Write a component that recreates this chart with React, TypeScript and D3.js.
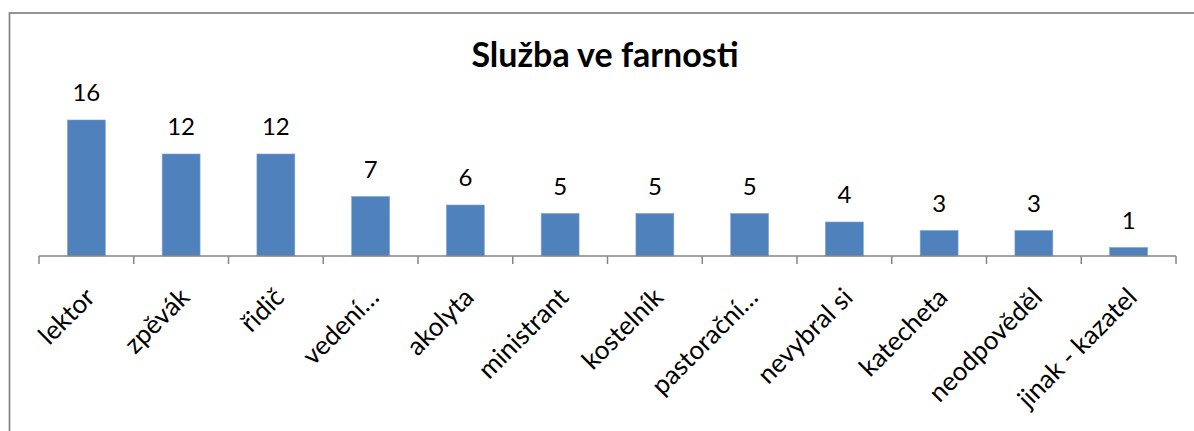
import React from "react";
import * as d3 from "d3";

const categories = [
  "lektor",
  "zpěvák",
  "řidič",
  "vedení…",
  "akolyta",
  "ministrant",
  "kostelník",
  "pastorační…",
  "nevybral si",
  "katecheta",
  "neodpověděl",
  "jinak - kazatel",
];
const values = [16, 12, 12, 7, 6, 5, 5, 5, 4, 3, 3, 1];
const title = "Služba ve farnosti";

const W = 1194;
const H = 431;
const axisY = 256;
const FONT = "Lato, Calibri, Carlito, sans-serif";

export default function App() {
  const x = d3
    .scaleBand<string>()
    .domain(categories)
    .range([39, 1176])
    .paddingInner(0.6)
    .paddingOuter(0.3);
  const y = d3.scaleLinear().domain([0, 16]).range([axisY, 120]);
  const step = x.step();
  const x0 = 39;
  const ticks = d3.range(categories.length + 1).map((i) => x0 + i * step);

  return (
    <svg
      width={W}
      height={H}
      style={{ position: "absolute", left: 0, top: 0, background: "#fff" }}
    >
      <rect x={0} y={0} width={W} height={H} fill="#fff" />
      <rect
        x={9.5}
        y={13}
        width={W + 20}
        height={H + 20}
        fill="none"
        stroke="#878787"
        strokeWidth={1.75}
      />
      <text
        x={605}
        y={67}
        textAnchor="middle"
        fontFamily={FONT}
        fontWeight="bold"
        fontSize={34}
        fill="#000"
      >
        {title}
      </text>
      {categories.map((c, i) => (
        <rect
          key={c}
          x={x(c)}
          y={y(values[i])}
          width={x.bandwidth()}
          height={axisY - y(values[i])}
          fill="#4F81BD"
          stroke="#7fa2cf"
          strokeWidth={0.6}
        />
      ))}
      <line x1={x0} x2={ticks[ticks.length - 1]} y1={axisY} y2={axisY} stroke="#868686" strokeWidth={1.5} />
      {ticks.map((t, i) => (
        <line key={i} x1={t} x2={t} y1={axisY} y2={axisY + 8} stroke="#868686" strokeWidth={1.5} />
      ))}
      {categories.map((c, i) => (
        <text
          key={"v" + c}
          x={(x(c) as number) + x.bandwidth() / 2}
          y={y(values[i]) - 19}
          textAnchor="middle"
          fontFamily={FONT}
          fontSize={24}
          fill="#000"
        >
          {values[i]}
        </text>
      ))}
      {categories.map((c) => {
        const cx = (x(c) as number) + x.bandwidth() / 2 + 10;
        const cy = 299;
        return (
          <text
            key={"l" + c}
            x={cx}
            y={cy}
            transform={`rotate(-45 ${cx} ${cy})`}
            textAnchor="end"
            fontFamily={FONT}
            fontSize={26}
            fill="#000"
          >
            {c}
          </text>
        );
      })}
    </svg>
  );
}
